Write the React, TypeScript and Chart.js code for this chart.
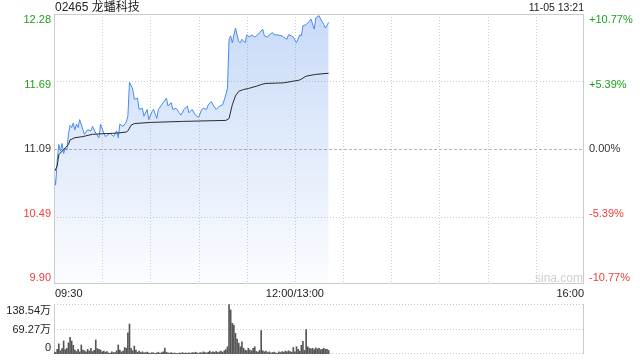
import React, { useEffect, useRef } from "react";
import { Chart, registerables } from "chart.js";

Chart.register(...registerables);

const stockTitle = "02465 龙蟠科技";
const stampText = "11-05 13:21";
const watermark = "sina.com";

const priceMin = 9.896;
const priceMax = 12.284;
const priceTickLabels = ["12.28", "11.69", "11.09", "10.49", "9.90"];
const pctTickLabels = ["+10.77%", "+5.39%", "0.00%", "-5.39%", "-10.77%"];
const tickColors = ["#1ea01e", "#1ea01e", "#333333", "#f03c3c", "#f03c3c"];

const sessionMinutes = 330;
const timeLabels = ["09:30", "12:00/13:00", "16:00"];
const timeLabelMinutes = [0, 150, 330];

const volumeMax = 138.54;
const volumeTickLabels = ["138.54万", "69.27万", "0"];

const priceMinutes = [
  0, 1, 2, 3, 4, 5, 6, 7, 8, 9,
  10, 11, 12, 13, 14, 15, 16, 18, 19, 21,
  23, 24, 26, 28, 29, 31, 32, 35, 37, 39,
  40, 41, 43, 45, 46, 47, 49, 50, 52, 53,
  55, 56, 58, 59, 61, 62, 64, 65, 68, 70,
  71, 73, 74, 76, 78, 79, 81, 83, 84, 86,
  88, 90, 92, 93, 95, 96, 98, 99, 101, 103,
  105, 107, 108, 109, 110, 111, 113, 115, 116, 117,
  119, 120, 122, 123, 125, 126, 128, 130, 131, 133,
  134, 136, 137, 139, 142, 143, 145, 146, 148, 149,
  151, 153, 154, 155, 157, 159, 160, 162, 163, 165,
  166, 168, 169, 171,
];
const priceValues = [
  10.88, 10.77, 10.99, 11.13, 11.07, 11.14, 11.05, 11.1, 11.08, 11.22,
  11.3, 11.28, 11.32, 11.26, 11.31, 11.28, 11.35, 11.26, 11.22, 11.26,
  11.25, 11.29, 11.23, 11.19, 11.31, 11.23, 11.2, 11.23, 11.2, 11.25,
  11.19, 11.31, 11.29, 11.33, 11.38, 11.68, 11.62, 11.53, 11.54, 11.44,
  11.45, 11.38, 11.44, 11.35, 11.42, 11.44, 11.36, 11.44, 11.5, 11.54,
  11.47, 11.5, 11.44, 11.45, 11.41, 11.39, 11.44, 11.47, 11.41, 11.44,
  11.39, 11.37, 11.44, 11.45, 11.44, 11.48, 11.51, 11.48, 11.44, 11.47,
  11.48, 11.57, 11.63, 12.06, 12.09, 12.03, 12.16, 12.04, 12.03, 12.06,
  12.03, 12.1, 12.08, 12.1, 12.08, 12.09, 12.12, 12.15, 12.09, 12.08,
  12.1, 12.12, 12.1, 12.1, 12.09, 12.08, 12.06, 12.1, 12.09, 12.08,
  12.03, 12.1, 12.09, 12.18, 12.19, 12.22, 12.24, 12.15, 12.25, 12.27,
  12.24, 12.19, 12.16, 12.21,
];

const avgMinutes = [
  0, 2, 3, 5, 7, 9, 10, 13, 18, 24, 30, 39, 45, 46, 48, 50, 60, 80, 107, 109,
  111, 113, 115, 118, 121, 126, 129, 132, 143, 153, 157, 163, 171,
];
const avgValues = [
  10.88, 10.94, 11.04, 11.07, 11.1, 11.13, 11.17, 11.19, 11.2, 11.22,
  11.225, 11.23, 11.24, 11.25, 11.3, 11.315, 11.325, 11.334, 11.343, 11.36,
  11.48, 11.56, 11.6, 11.616, 11.625, 11.645, 11.66, 11.67, 11.675, 11.7,
  11.734, 11.75, 11.76,
];

// volume per minute (万股), minute index = position
const volumeValues = [
  6, 4, 13, 28, 9, 15, 36, 12, 16, 31,
  46, 36, 24, 11, 7, 13, 6, 25, 11, 9,
  6, 13, 8, 16, 7, 10, 39, 15, 13, 11,
  6, 8, 5, 7, 3, 2, 6, 4, 4, 9,
  25, 11, 6, 8, 18, 16, 59, 83, 16, 9,
  22, 11, 5, 8, 4, 6, 3, 4, 5, 3,
  2, 4, 3, 2, 3, 5, 2, 4, 6, 16,
  5, 3, 2, 4, 2, 3, 2, 1, 3, 2,
  4, 2, 3, 2, 3, 2, 4, 3, 5, 3,
  2, 4, 3, 6, 4, 3, 5, 8, 4, 6,
  5, 7, 4, 6, 8, 5, 9, 12, 20, 137,
  122, 85, 80, 57, 41, 30, 20, 34, 16, 11,
  9, 16, 11, 9, 16, 20, 7, 5, 10, 65,
  9, 6, 8, 4, 6, 3, 4, 5, 3, 2,
  6, 4, 7, 5, 8, 6, 9, 7, 5, 18,
  6, 20, 13, 8, 24, 35, 10, 68, 20, 16,
  14, 16, 12, 17, 14, 16, 12, 13, 16, 13,
  13, 10,
];

const FONT = '"Liberation Sans", Arial, "Noto Sans CJK SC", sans-serif';

const pricePanelPlugin = {
  id: "pricePanel",
  beforeDatasetsDraw(chart: any) {
    const { ctx, chartArea: a, scales } = chart;
    const x = scales.x;
    const y = scales.y;
    ctx.save();
    ctx.lineWidth = 1;
    ctx.strokeStyle = "#cdcdcd";
    ctx.setLineDash([1, 2]);
    for (let m = 30; m < sessionMinutes; m += 30) {
      const px = Math.round(x.getPixelForValue(m)) + 0.5;
      ctx.beginPath();
      ctx.moveTo(px, a.top);
      ctx.lineTo(px, a.bottom);
      ctx.stroke();
    }
    for (let k = 1; k < 4; k++) {
      const v = priceMin + ((priceMax - priceMin) * k) / 4;
      const py = Math.round(y.getPixelForValue(v)) + 0.5;
      if (k === 2) {
        ctx.strokeStyle = "#b4b4b4";
        ctx.setLineDash([3, 2]);
      } else {
        ctx.strokeStyle = "#cdcdcd";
        ctx.setLineDash([1, 2]);
      }
      ctx.beginPath();
      ctx.moveTo(a.left, py);
      ctx.lineTo(a.right, py);
      ctx.stroke();
    }
    ctx.restore();
  },
  afterDraw(chart: any) {
    const { ctx, chartArea: a, scales } = chart;
    const x = scales.x;
    const y = scales.y;
    ctx.save();
    // border
    ctx.lineWidth = 1;
    ctx.strokeStyle = "#cccccc";
    ctx.setLineDash([]);
    ctx.strokeRect(a.left + 0.5, a.top + 0.5, a.right - a.left - 1, a.bottom - a.top - 1);

    // watermark
    ctx.font = `12px ${FONT}`;
    ctx.fillStyle = "#cfcfcf";
    ctx.textAlign = "right";
    ctx.textBaseline = "middle";
    ctx.fillText(watermark, a.right - 1, a.bottom - 5);

    // y labels
    ctx.font = `11px ${FONT}`;
    priceTickLabels.forEach((lab, i) => {
      const v = priceMax - ((priceMax - priceMin) * i) / 4;
      const f = 1 - i / 2; // 1 at top, -1 at bottom
      const py = y.getPixelForValue(v) + f * 6;
      ctx.fillStyle = tickColors[i];
      ctx.textAlign = "right";
      ctx.fillText(lab, a.left - 3, py);
      ctx.textAlign = "left";
      ctx.fillText(pctTickLabels[i], a.right + 5, py);
    });

    // x labels
    ctx.fillStyle = "#222222";
    timeLabels.forEach((lab, i) => {
      const px = x.getPixelForValue(timeLabelMinutes[i]);
      ctx.textAlign = i === 0 ? "left" : i === timeLabels.length - 1 ? "right" : "center";
      ctx.fillText(lab, px + (i === 0 ? 1 : 0), a.bottom + 10);
    });

    // title & timestamp
    ctx.fillStyle = "#222222";
    ctx.font = `12px ${FONT}`;
    ctx.textAlign = "left";
    ctx.fillText(stockTitle, a.left + 1, 8);
    ctx.font = `10.5px ${FONT}`;
    ctx.textAlign = "right";
    ctx.fillText(stampText, a.right, 8);
    ctx.restore();
  },
};

const volumePanelPlugin = {
  id: "volumePanel",
  beforeDatasetsDraw(chart: any) {
    const { ctx, chartArea: a, scales } = chart;
    const y = scales.y;
    ctx.save();
    ctx.lineWidth = 1;
    ctx.strokeStyle = "#c8c8c8";
    ctx.setLineDash([1, 2]);
    const ys = [a.top + 0.5, Math.round(y.getPixelForValue(volumeMax / 2)) + 0.5, a.bottom - 0.5];
    ys.forEach((py) => {
      ctx.beginPath();
      ctx.moveTo(a.left, py);
      ctx.lineTo(a.right, py);
      ctx.stroke();
    });
    ctx.setLineDash([]);
    ctx.strokeStyle = "#cccccc";
    ctx.beginPath();
    ctx.moveTo(a.left + 0.5, a.top);
    ctx.lineTo(a.left + 0.5, a.bottom);
    ctx.moveTo(a.right - 0.5, a.top);
    ctx.lineTo(a.right - 0.5, a.bottom);
    ctx.stroke();
    ctx.restore();
  },
  afterDraw(chart: any) {
    const { ctx, chartArea: a, scales } = chart;
    const y = scales.y;
    ctx.save();
    ctx.font = `11px ${FONT}`;
    ctx.fillStyle = "#222222";
    ctx.textAlign = "right";
    ctx.textBaseline = "middle";
    const vals = [volumeMax, volumeMax / 2, 0];
    const offs = [7, 1, -6];
    volumeTickLabels.forEach((lab, i) => {
      ctx.fillText(lab, a.left - 3, y.getPixelForValue(vals[i]) + offs[i]);
    });
    ctx.restore();
  },
};

export default function App() {
  const priceRef = useRef<HTMLCanvasElement>(null);
  const volRef = useRef<HTMLCanvasElement>(null);

  useEffect(() => {
    const priceChart = new Chart(priceRef.current as HTMLCanvasElement, {
      type: "line",
      data: {
        datasets: [
          {
            label: "均价",
            data: avgMinutes.map((m, i) => ({ x: m, y: avgValues[i] })),
            borderColor: "#2a2a2a",
            borderWidth: 1,
            pointRadius: 0,
            fill: false,
            tension: 0,
          },
          {
            label: "价格",
            data: priceMinutes.map((m, i) => ({ x: m, y: priceValues[i] })),
            borderColor: "#4a8af0",
            borderWidth: 1,
            pointRadius: 0,
            tension: 0,
            fill: "start",
            backgroundColor: (c: any) => {
              const { chart } = c;
              const area = chart.chartArea;
              if (!area) return "rgba(74,138,240,0.15)";
              const g = chart.ctx.createLinearGradient(0, area.top, 0, area.bottom);
              g.addColorStop(0, "rgba(74,134,232,0.30)");
              g.addColorStop(1, "rgba(74,134,232,0.02)");
              return g;
            },
          },
        ],
      },
      options: {
        responsive: false,
        animation: false,
        events: [],
        layout: { padding: { left: 54, right: 56, top: 14, bottom: 16 } },
        scales: {
          x: { type: "linear", min: 0, max: sessionMinutes, display: false },
          y: { type: "linear", min: priceMin, max: priceMax, display: false },
        },
        plugins: { legend: { display: false }, tooltip: { enabled: false } },
      },
      plugins: [pricePanelPlugin],
    } as any);

    const volChart = new Chart(volRef.current as HTMLCanvasElement, {
      type: "bar",
      data: {
        datasets: [
          {
            label: "成交量",
            data: volumeValues.map((v, i) => ({ x: i, y: v })),
            backgroundColor: "#555555",
            barThickness: 1,
          },
        ],
      },
      options: {
        responsive: false,
        animation: false,
        events: [],
        layout: { padding: { left: 54, right: 56, top: 4, bottom: 6 } },
        scales: {
          x: { type: "linear", min: 0, max: sessionMinutes, display: false, offset: false },
          y: { type: "linear", min: 0, max: volumeMax, display: false },
        },
        plugins: { legend: { display: false }, tooltip: { enabled: false } },
      },
      plugins: [volumePanelPlugin],
    } as any);

    return () => {
      priceChart.destroy();
      volChart.destroy();
    };
  }, []);

  return (
    <div
      style={{
        position: "fixed",
        left: 0,
        top: 0,
        width: 640,
        height: 360,
        background: "#ffffff",
      }}
    >
      <canvas
        ref={priceRef}
        width={640}
        height={300}
        style={{ position: "absolute", left: 0, top: 0, width: 640, height: 300 }}
      />
      <canvas
        ref={volRef}
        width={640}
        height={60}
        style={{ position: "absolute", left: 0, top: 300, width: 640, height: 60 }}
      />
    </div>
  );
}
